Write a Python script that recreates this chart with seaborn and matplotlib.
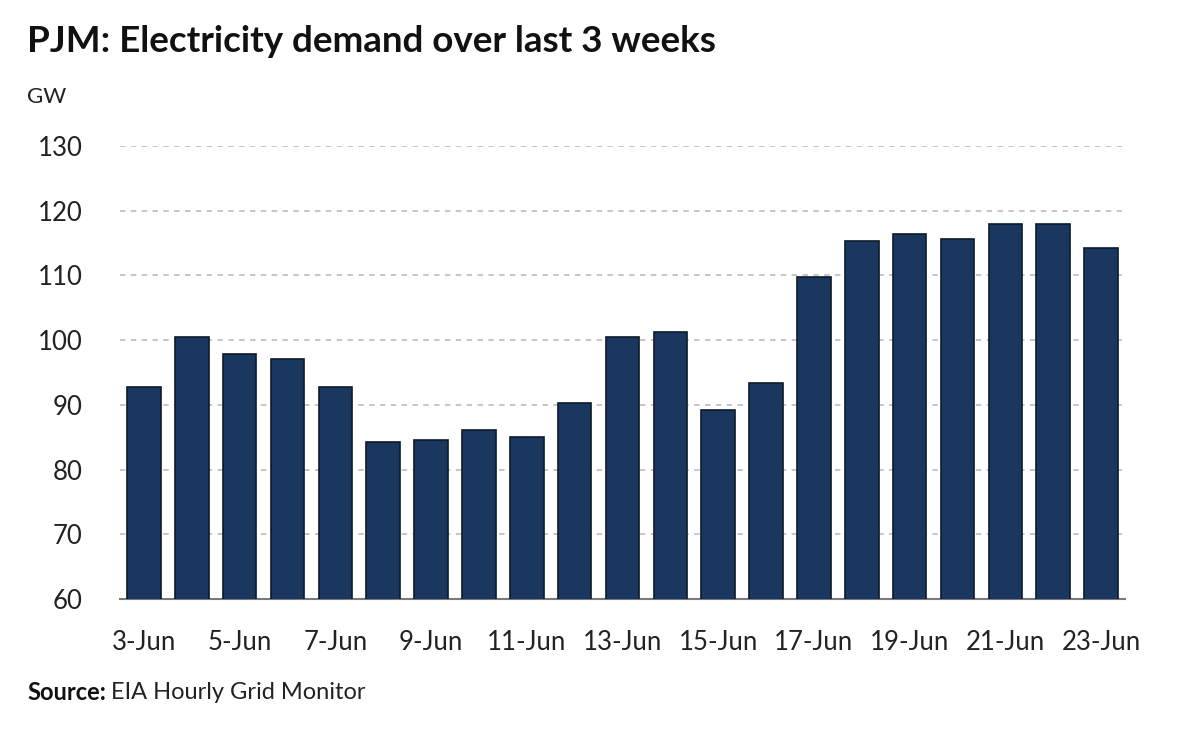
import pandas as pd
import seaborn as sns
from matplotlib import pyplot as plt

# Daily PJM demand, GW
dates = ['3-Jun', '4-Jun', '5-Jun', '6-Jun', '7-Jun', '8-Jun', '9-Jun', '10-Jun', '11-Jun',
         '12-Jun', '13-Jun', '14-Jun', '15-Jun', '16-Jun', '17-Jun', '18-Jun', '19-Jun',
         '20-Jun', '21-Jun', '22-Jun', '23-Jun']
demand_gw = [92.7, 100.5, 97.9, 97.1, 92.7, 84.2, 84.6, 86.1, 85.0, 90.3, 100.5,
             101.2, 89.2, 93.3, 109.7, 115.3, 116.4, 115.7, 118.0, 118.0, 114.2]
y_ticks = [60, 70, 80, 90, 100, 110, 120, 130]

BAR_COLOR = '#1a3760'

sns.set_style('white')
plt.rcParams['font.family'] = ['Lato', 'DejaVu Sans']

df = pd.DataFrame({'date': dates, 'gw': demand_gw})

fig = plt.figure(figsize=(12, 7.31), dpi=100)
ax = fig.add_axes([0.1, 0.1806, 0.8375, 0.6197])

sns.barplot(data=df, x='date', y='gw', color=BAR_COLOR, saturation=1, width=0.7,
            edgecolor='#0d1a2b', linewidth=1.2, ax=ax, zorder=3)

ax.set_ylim(60, 130)
ax.set_xlim(-0.5, len(dates) - 0.5)
ax.set_yticks(y_ticks)
ax.set_yticklabels([str(t) for t in y_ticks])
ax.set_xticks(range(0, len(dates), 2))
ax.set_xticklabels(dates[::2])
ax.yaxis.grid(True, linestyle=(0, (3, 3)), color='#c0c0c0', linewidth=1.3, zorder=0)
ax.set_axisbelow(True)
ax.tick_params(axis='y', length=0, pad=27, labelsize=18.5, labelcolor='#222222')
ax.tick_params(axis='x', length=0, pad=22, labelsize=18.5, labelcolor='#222222')
ax.set_xlabel('')
ax.set_ylabel('')
sns.despine(ax=ax, left=True, top=True, right=True)
ax.spines['bottom'].set_color('#7a7a7a')
ax.spines['bottom'].set_linewidth(1.5)

fig.text(0.0225, 0.943, 'PJM: Electricity demand over last 3 weeks', fontsize=26.5,
         fontweight='bold', color='#111111', va='center', ha='left')
fig.text(0.0225, 0.867, 'GW', fontsize=16, color='#222222', va='center', ha='left')
src = fig.text(0.0225, 0.052, 'Source:', fontsize=17, fontweight='bold', color='#111111',
               va='center', ha='left')
fig.canvas.draw()
bb = src.get_window_extent()
fig.text(bb.x1 / fig.bbox.width + 0.004, 0.052, 'EIA Hourly Grid Monitor', fontsize=17,
         color='#222222', va='center', ha='left')

fig.savefig('out.png', dpi=100)
